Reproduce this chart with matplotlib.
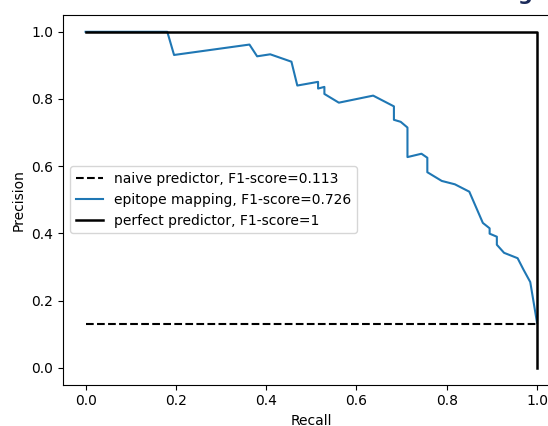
import numpy as np
import matplotlib
matplotlib.use("Agg")
import matplotlib.pyplot as plt

# epitope mapping precision-recall curve
recall = [0.0, 0.181, 0.196, 0.363, 0.380, 0.409, 0.456, 0.469, 0.515, 0.515,
          0.529, 0.529, 0.561, 0.637, 0.683, 0.683, 0.698, 0.713, 0.713, 0.744,
          0.757, 0.757, 0.789, 0.818, 0.850, 0.880, 0.895, 0.895, 0.911, 0.911,
          0.927, 0.957, 0.970, 0.985, 1.0]
precision = [1.0, 1.0, 0.931, 0.962, 0.927, 0.933, 0.911, 0.840, 0.851, 0.831,
             0.836, 0.815, 0.789, 0.810, 0.778, 0.738, 0.732, 0.715, 0.627, 0.637,
             0.625, 0.582, 0.556, 0.546, 0.524, 0.431, 0.415, 0.399, 0.390, 0.366,
             0.342, 0.326, 0.292, 0.255, 0.134]

naive_precision = 0.13
naive_f1 = 0.113
epitope_f1 = 0.726

perfect_recall = [0, 1, 1]
perfect_precision = [1, 1, 0]

fig = plt.figure(figsize=(5.48, 4.26), dpi=100)
ax = fig.add_axes([63 / 548, 1 - 384.5 / 426, (559.6 - 63) / 548, (384.5 - 15) / 426])

ax.plot([0, 1], [naive_precision, naive_precision], 'k--',
        label='naive predictor, F1-score=%.3f' % naive_f1)
ax.plot(recall, precision, color='tab:blue',
        label='epitope mapping, F1-score=%.3f' % epitope_f1)
ax.plot(perfect_recall, perfect_precision, 'k-', linewidth=1.8,
        label='perfect predictor, F1-score=1')

ax.set_xlim(-0.05, 1.05)
ax.set_ylim(-0.05, 1.05)
ax.set_xlabel('Recall')
ax.set_ylabel('Precision')
ax.legend(loc='center left')

# bit of a cropped heading at the top right
fig.text(0.958, 1.0, 'g', ha='center', va='baseline', fontsize=15,
         fontweight='bold', color='#1a2a5a')

fig.savefig('out.png', dpi=100)
